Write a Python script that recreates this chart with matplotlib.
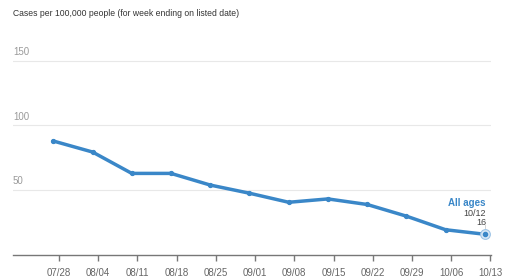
import matplotlib.pyplot as plt

plt.rcParams['font.family'] = ['Liberation Sans', 'DejaVu Sans']

# days offset from 07/28
tick_days = [0, 7, 14, 21, 28, 35, 42, 49, 56, 63, 70, 77]
tick_labels = ['07/28', '08/04', '08/11', '08/18', '08/25', '09/01',
               '09/08', '09/15', '09/22', '09/29', '10/06', '10/13']
point_days = [-1, 6, 13, 20, 27, 34, 41, 48, 55, 62, 69, 76]
cases = [88, 79.5, 63, 63, 54, 47.7, 40.7, 43.3, 39, 30, 19.5, 16]
grid_vals = [50, 100, 150]

W, H = 512, 278
fig = plt.figure(figsize=(W / 100, H / 100), dpi=100)
ax = fig.add_axes([13 / W, (H - 255) / H, (491 - 13) / W, (255 - 40) / H])

blue = '#3a87c8'
ax.plot(point_days, cases, color=blue, lw=2.5, marker='o', ms=2.8,
        solid_capstyle='round', solid_joinstyle='round', zorder=3)
ax.plot(point_days[-1], cases[-1], marker='o', ms=7, mfc='#dbe9f6',
        mec='#9cc3e6', mew=0.8, zorder=4)
ax.plot(point_days[-1], cases[-1], marker='o', ms=3, color=blue, zorder=5)

ax.set_xlim(-8.2, 77.1)
ax.set_ylim(0, 166)

for v in grid_vals:
    ax.axhline(v, color='#e8e8e8', lw=0.8, zorder=1)
    ax.text(-8.2, v + 3, str(v), color='#9a9a9a', fontsize=7,
            ha='left', va='bottom')

for s in ['top', 'right', 'left']:
    ax.spines[s].set_visible(False)
ax.spines['bottom'].set_color('#777777')
ax.spines['bottom'].set_linewidth(1.0)
ax.set_yticks([])
ax.set_xticks(tick_days)
ax.set_xticklabels(tick_labels)
ax.tick_params(axis='x', colors='#777777', length=4, width=1,
               labelsize=7, labelcolor='#666666', pad=5)

# end label
ax.plot([point_days[-1], point_days[-1]], [cases[-1], 23], color='#cccccc',
        lw=0.6, zorder=2)
ax.text(76.2, 40, 'All ages', color=blue, fontsize=7, fontweight='bold',
        ha='right', va='center')
ax.text(76.2, 32, '10/12', color='#444444', fontsize=6.5, ha='right', va='center')
ax.text(76.2, 25, '16', color='#444444', fontsize=6.5, ha='right', va='center')

fig.text(13 / W, 1 - 13 / H, 'Cases per 100,000 people (for week ending on listed date)',
         color='#333333', fontsize=6.2, ha='left', va='center')

fig.savefig('out.png', dpi=100, facecolor='white')
